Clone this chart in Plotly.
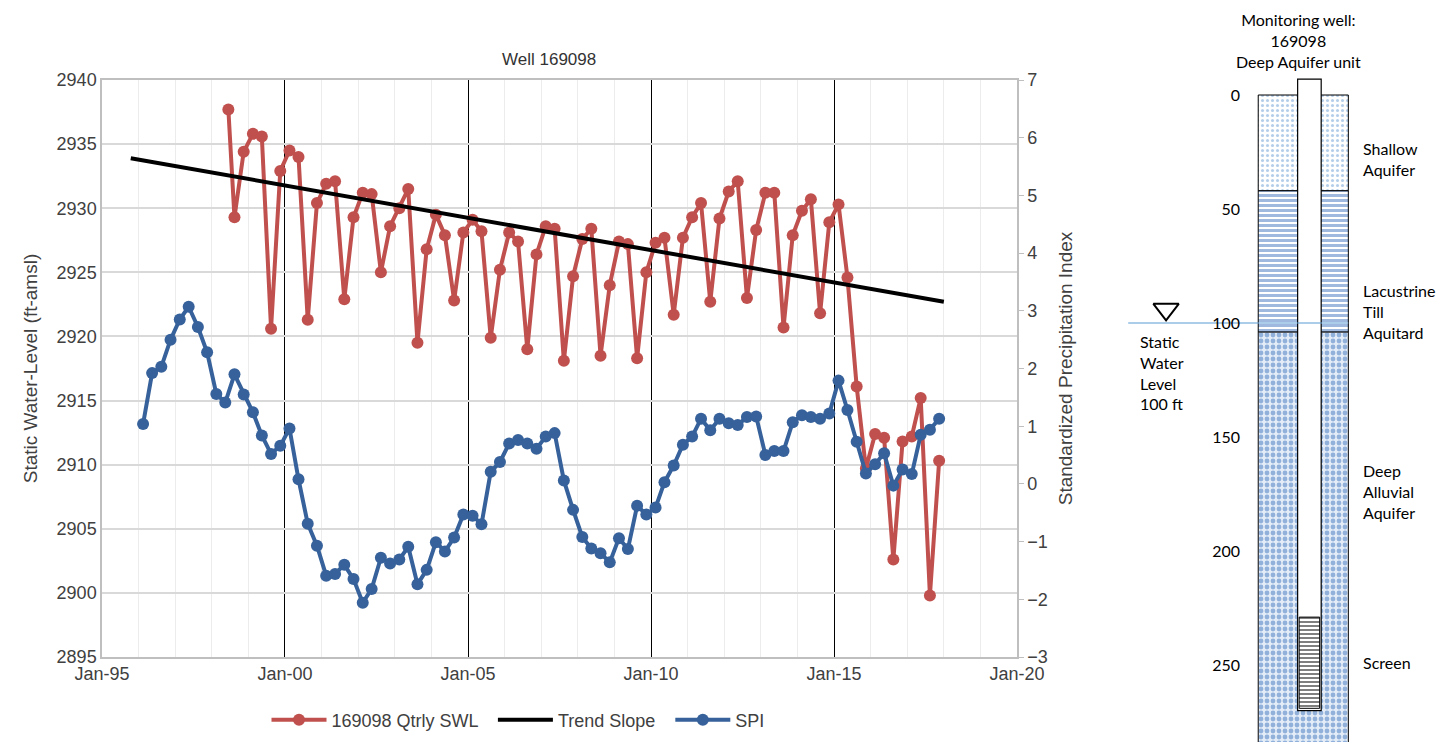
import pandas as pd
import plotly.graph_objects as go

W, H = 1455, 742
OFF = 8  # page body margin

# quarterly static water level (ft-amsl), first reading Jun-98 then Feb/May/Aug/Nov
swl_dates = [pd.Timestamp("1998-06-15")] + list(
    pd.date_range("1998-08-01", periods=78, freq="QS-FEB") + pd.Timedelta(days=14)
)
swl = [
    2937.7, 2929.3, 2934.4, 2935.8, 2935.6, 2920.6, 2932.9, 2934.5, 2934.0, 2921.3,
    2930.4, 2931.9, 2932.1, 2922.9, 2929.3, 2931.2, 2931.1, 2925.0, 2928.6, 2930.0,
    2931.5, 2919.5, 2926.8, 2929.5, 2927.9, 2922.8, 2928.1, 2929.1, 2928.2, 2919.9,
    2925.2, 2928.1, 2927.4, 2919.0, 2926.4, 2928.6, 2928.4,
    2918.1, 2924.7, 2927.6, 2928.4, 2918.5, 2924.0, 2927.4, 2927.2, 2918.3, 2925.0,
    2927.3, 2927.7, 2921.7, 2927.7, 2929.3, 2930.4, 2922.7, 2929.2, 2931.3, 2932.1,
    2923.0, 2928.3, 2931.2, 2931.2, 2920.7, 2927.9, 2929.8, 2930.7, 2921.8, 2928.9,
    2930.3, 2924.6, 2916.1, 2909.7, 2912.4, 2912.1, 2902.6, 2911.8, 2912.2, 2915.2,
    2899.8, 2910.3,
]

spi_dates = list(pd.date_range("1996-02-01", periods=88, freq="QS-FEB") + pd.Timedelta(days=14))
spi = [
    1.04, 1.92, 2.03, 2.50, 2.85, 3.07, 2.72, 2.28, 1.56, 1.41, 1.90, 1.55, 1.24, 0.84,
    0.52, 0.66, 0.96, 0.08, -0.69, -1.07, -1.59, -1.56, -1.40, -1.65, -2.06, -1.82,
    -1.28, -1.38, -1.31, -1.09, -1.74, -1.49, -1.01, -1.17, -0.93, -0.53, -0.55, -0.70,
    0.21, 0.38, 0.70, 0.76, 0.70, 0.61, 0.82, 0.88,
    0.06, -0.45, -0.92, -1.12, -1.20, -1.36, -0.94, -1.13, -0.38, -0.53, -0.41, 0.03,
    0.32, 0.68, 0.82, 1.13, 0.93, 1.13, 1.05, 1.02, 1.16, 1.17, 0.50, 0.57, 0.57, 1.07,
    1.19, 1.16, 1.13, 1.22, 1.79, 1.28, 0.73, 0.18, 0.34, 0.53, -0.03, 0.25, 0.17, 0.85,
    0.94, 1.13,
]

trend_dates = ["1995-10-15", "2018-01-01"]
trend = [2933.9, 2922.7]

# well schematic (depth in ft)
layer_names = ["Shallow<br>Aquifer", "Lacustrine<br>Till<br>Aquitard", "Deep<br>Alluvial<br>Aquifer"]
layer_top = [0, 42, 104]
layer_bottom = [42, 104, 300]
screen_top, screen_bottom = 229, 269
casing_top = -7
water_level = 100
depth_ticks = [0, 50, 100, 150, 200, 250]

RED = "#c0504d"
BLUE = "#36619a"
FONT = "Liberation Sans, Arial, sans-serif"
CAL = "Lato, Carlito, sans-serif"


def px_x(p):
    return (p - OFF) / W


def px_y(p):
    return 1 - (p - OFF) / H


fig = go.Figure()

fig.add_trace(go.Scatter(
    x=swl_dates, y=swl, name="169098 Qtrly SWL  ", mode="lines+markers",
    line=dict(color=RED, width=4), marker=dict(size=12, color=RED),
))
fig.add_trace(go.Scatter(
    x=trend_dates, y=trend, name="Trend Slope  ", mode="lines",
    line=dict(color="black", width=4),
))
fig.add_trace(go.Scatter(
    x=spi_dates, y=spi, name="SPI", mode="lines+markers", yaxis="y2",
    line=dict(color=BLUE, width=4), marker=dict(size=12, color=BLUE),
))

# schematic: layers as overlaid bars with patterns
patterns = [
    dict(shape=".", fgcolor="#6a9bd3", bgcolor="white", size=5, solidity=0.3),
    dict(shape="-", fgcolor="#3f73bd", bgcolor="white", size=5, solidity=0.6),
    dict(shape=".", fgcolor="#3f73bd", bgcolor="#e3ecf7", size=6, solidity=0.5),
]
for name, top, bot, pat in zip(layer_names, layer_top, layer_bottom, patterns):
    fig.add_trace(go.Bar(
        x=[179], y=[bot - top], base=[top], width=88, xaxis="x3", yaxis="y3",
        marker=dict(color="white", line=dict(color="black", width=1), pattern=pat),
        showlegend=False, hoverinfo="skip",
    ))
fig.add_trace(go.Bar(
    x=[185], y=[screen_bottom - casing_top + 1], base=[casing_top], width=23, xaxis="x3", yaxis="y3",
    marker=dict(color="white", line=dict(color="black", width=1.2)),
    showlegend=False, hoverinfo="skip",
))
fig.add_trace(go.Bar(
    x=[185], y=[screen_bottom - screen_top], base=[screen_top], width=20, xaxis="x3", yaxis="y3",
    marker=dict(color="white", line=dict(color="black", width=1),
                pattern=dict(shape="-", fgcolor="black", bgcolor="white", size=4, solidity=0.5)),
    showlegend=False, hoverinfo="skip",
))
fig.add_trace(go.Scatter(
    x=[8, 223], y=[water_level, water_level], mode="lines", xaxis="x3", yaxis="y3",
    line=dict(color="#5b9bd5", width=1.2), showlegend=False, hoverinfo="skip",
))
fig.add_trace(go.Scatter(
    x=[45], y=[water_level - 6], mode="markers", xaxis="x3", yaxis="y3",
    marker=dict(symbol="triangle-down-open", size=22, color="black", line=dict(width=2)),
    showlegend=False, hoverinfo="skip",
))

sfont = dict(size=16, family=CAL, color="black")
annotations = [
    dict(text="Well 169098", x=px_x(549), y=px_y(48), xref="paper", yref="paper",
         showarrow=False, font=dict(size=17, family=FONT, color="#333")),
    dict(text="Monitoring well:<br>169098<br>Deep Aquifer unit", x=174, y=-38, xref="x3", yref="y3",
         showarrow=False, yanchor="top", font=sfont),
    dict(text="Static<br>Water<br>Level<br>100 ft", x=18, y=103, xref="x3", yref="y3", xanchor="left",
         yanchor="top", align="left", showarrow=False, font=sfont),
]
label_mid = [28, 95, 174]
for name, mid in zip(layer_names, label_mid):
    annotations.append(dict(text=name, x=235, y=mid, xref="x3", yref="y3", xanchor="left",
                            align="left", showarrow=False, font=sfont))
annotations.append(dict(text="Screen", x=235, y=249, xref="x3", yref="y3", xanchor="left",
                        showarrow=False, font=sfont))

fig.update_layout(
    width=W, height=H, margin=dict(l=0, r=0, t=0, b=0, autoexpand=False),
    paper_bgcolor="white", plot_bgcolor="white", barmode="overlay",
    font=dict(family=FONT, size=18, color="#404040"),
    xaxis=dict(
        domain=[px_x(102), px_x(1017)], type="date", range=["1995-01-01", "2020-01-01"],
        tickvals=["1995-01-01", "2000-01-01", "2005-01-01", "2010-01-01", "2015-01-01", "2020-01-01"],
        tickformat="%b-%y", showgrid=True, gridcolor="black", gridwidth=1,
        minor=dict(dtick="M12", showgrid=True, gridcolor="#ececec", gridwidth=1),
        showline=True, linecolor="#bfbfbf", linewidth=1.5, mirror=True, zeroline=False,
        ticks="", anchor="y", automargin=False,
    ),
    yaxis=dict(
        domain=[px_y(657), px_y(80)], range=[2895, 2940], dtick=5, automargin=False,
        title=dict(text="Static Water-Level (ft-amsl)", standoff=14, font=dict(size=19)),
        showgrid=True, gridcolor="#d9d9d9", gridwidth=1.5,
        showline=True, linecolor="#bfbfbf", linewidth=1.5, ticks="", zeroline=False,
    ),
    yaxis2=dict(
        overlaying="y", side="right", range=[-3, 7], dtick=1, showgrid=False, automargin=False,
        title=dict(text="Standardized Precipitation Index", standoff=12, font=dict(size=19)),
        showline=True, linecolor="#bfbfbf", linewidth=1.5, ticks="outside", ticklen=5,
        tickcolor="#bfbfbf", zeroline=False,
    ),
    xaxis3=dict(domain=[px_x(1120), 1.0], range=[0, 335], visible=False, anchor="y3"),
    yaxis3=dict(
        domain=[0, 1], range=[(H + OFF - 95) / 2.28, (OFF - 95) / 2.28], tickvals=depth_ticks,
        automargin=False, anchor="free", position=px_x(1240), showgrid=False, showline=False,
        zeroline=False, ticks="", tickfont=dict(size=16, family=CAL, color="black"),
    ),
    legend=dict(orientation="h", x=px_x(518), xanchor="center", y=px_y(720), yanchor="middle",
                font=dict(size=18), itemwidth=55),
    annotations=annotations,
)

fig.write_html("out.html")
